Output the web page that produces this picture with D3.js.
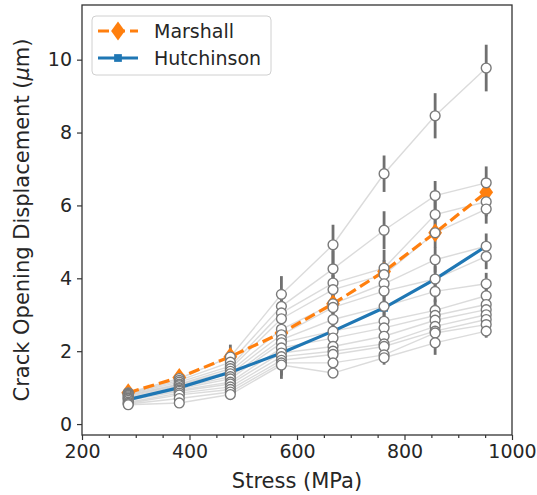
<!DOCTYPE html>
<html>
<head>
<meta charset="utf-8">
<script src="https://cdn.jsdelivr.net/npm/d3@7"></script>
<style>
  html, body { margin: 0; padding: 0; background: #fff; }
  svg { display: block; font-family: "DejaVu Sans", sans-serif; }
</style>
</head>
<body>
<svg id="chart" width="537" height="495"></svg>
<script>
// ---------- data ----------
const stress = [286, 381, 476, 571, 667, 762, 857, 952];

const marshall   = [0.86, 1.28, 1.85, 2.50, 3.30, 4.19, 5.25, 6.36];
const hutchinson = [0.67, 1.00, 1.42, 1.95, 2.55, 3.19, 3.98, 4.88];

// individual specimens (crack opening displacement, µm)
const specimens = [
  [0.86, 1.25, 1.84, 3.56, 4.92, 6.87, 8.46, 9.77],
  [0.84, 1.20, 1.70, 3.23, 4.26, 5.32, 6.27, 6.62],
  [0.82, 1.15, 1.59, 3.05, 3.87, 4.28, 5.75, 6.10],
  [0.80, 1.10, 1.52, 2.89, 3.69, 4.10, 5.25, 5.90],
  [0.78, 1.08, 1.45, 2.60, 3.30, 3.85, 4.51, 4.88],
  [0.75, 1.05, 1.38, 2.45, 3.20, 3.65, 3.98, 4.60],
  [0.72, 1.00, 1.30, 2.32, 2.87, 3.23, 3.64, 3.85],
  [0.70, 0.97, 1.24, 2.23, 2.55, 2.82, 3.12, 3.52],
  [0.69, 0.93, 1.15, 2.09, 2.36, 2.64, 2.98, 3.28],
  [0.65, 0.90, 1.10, 1.95, 2.13, 2.41, 2.85, 3.14],
  [0.60, 0.85, 1.02, 1.85, 2.00, 2.20, 2.68, 3.00],
  [0.57, 0.80, 0.95, 1.75, 1.91, 2.13, 2.55, 2.87],
  [0.55, 0.70, 0.88, 1.68, 1.68, 1.90, 2.50, 2.73],
  [0.53, 0.58, 0.81, 1.62, 1.40, 1.82, 2.23, 2.55]
];

// error bar half-widths for each specimen
const specimenErrors = [
  [0.05, 0.08, 0.34, 0.50, 0.55, 0.50, 0.62, 0.64],
  [0.05, 0.08, 0.25, 0.40, 0.50, 0.52, 0.40, 0.45],
  [0.05, 0.07, 0.20, 0.35, 0.45, 0.50, 0.40, 0.40],
  [0.05, 0.07, 0.20, 0.35, 0.40, 0.40, 0.40, 0.40],
  [0.05, 0.07, 0.20, 0.35, 0.35, 0.35, 0.35, 0.35],
  [0.05, 0.07, 0.18, 0.30, 0.35, 0.35, 0.35, 0.35],
  [0.05, 0.07, 0.18, 0.30, 0.30, 0.30, 0.30, 0.30],
  [0.05, 0.07, 0.15, 0.30, 0.30, 0.30, 0.30, 0.30],
  [0.05, 0.06, 0.15, 0.30, 0.25, 0.25, 0.30, 0.25],
  [0.05, 0.06, 0.15, 0.30, 0.25, 0.25, 0.30, 0.25],
  [0.05, 0.06, 0.12, 0.30, 0.20, 0.20, 0.30, 0.20],
  [0.05, 0.06, 0.12, 0.30, 0.15, 0.20, 0.30, 0.20],
  [0.05, 0.05, 0.12, 0.35, 0.12, 0.20, 0.30, 0.18],
  [0.05, 0.05, 0.11, 0.38, 0.10, 0.19, 0.33, 0.18]
];

const xTicks = [200, 400, 600, 800, 1000];
const xMinorTicks = [250, 300, 350, 450, 500, 550, 650, 700, 750, 850, 900, 950];
const yTicks = [0, 2, 4, 6, 8, 10];
const xLabel = "Stress (MPa)";
const seriesNames = ["Marshall", "Hutchinson"];

// ---------- layout ----------
const svg = d3.select("#chart");
const L = 82, R = 512, T = 5, B = 435;
const x = d3.scaleLinear().domain([200, 1000]).range([L, R]);
const y = d3.scaleLinear().domain([-0.3, 11.5]).range([B, T]);

const orange = "#ff7f0e", blue = "#1f77b4";
const textColor = "#262626";

// specimen lines
const line = d3.line().x((d, i) => x(stress[i])).y(d => y(d));
svg.append("g").selectAll("path").data(specimens).join("path")
  .attr("d", line)
  .attr("fill", "none")
  .attr("stroke", "#cfcfcf")
  .attr("stroke-opacity", 0.75)
  .attr("stroke-width", 1.4);

// error bars
const errG = svg.append("g");
specimens.forEach((row, s) => {
  row.forEach((v, i) => {
    const e = specimenErrors[s][i];
    errG.append("line")
      .attr("x1", x(stress[i])).attr("x2", x(stress[i]))
      .attr("y1", y(v - e)).attr("y2", y(v + e))
      .attr("stroke", "#707070")
      .attr("stroke-width", 2.8);
  });
});

// model lines
const mline = d3.line().x((d, i) => x(stress[i])).y(d => y(d));
svg.append("path").datum(hutchinson).attr("d", mline)
  .attr("fill", "none").attr("stroke", blue).attr("stroke-width", 3.2);
svg.append("path").datum(marshall).attr("d", mline)
  .attr("fill", "none").attr("stroke", orange).attr("stroke-width", 3.2)
  .attr("stroke-dasharray", "11,5");

const diamond = d3.symbol().type(d3.symbolDiamond).size(105);
const square = d3.symbol().type(d3.symbolSquare).size(60);
svg.append("g").selectAll("path").data(hutchinson).join("path")
  .attr("d", square)
  .attr("transform", (d, i) => `translate(${x(stress[i])},${y(d)})`)
  .attr("fill", blue);
svg.append("g").selectAll("path").data(marshall).join("path")
  .attr("d", diamond)
  .attr("transform", (d, i) => `translate(${x(stress[i])},${y(d)}) scale(1.25,1)`)
  .attr("fill", orange);

// specimen circles
const circG = svg.append("g");
specimens.forEach(row => {
  circG.selectAll(null).data(row).enter().append("circle")
    .attr("cx", (d, i) => x(stress[i]))
    .attr("cy", d => y(d))
    .attr("r", 4.9)
    .attr("fill", "#fff")
    .attr("stroke", "#7a7a7a")
    .attr("stroke-width", 1.4);
});

// ---------- axes ----------
const xAxis = svg.append("g").attr("transform", `translate(0,${B})`)
  .call(d3.axisBottom(x).tickValues(xTicks).tickSize(5).tickPadding(5).tickFormat(d3.format("d")));
const xMinor = svg.append("g").attr("transform", `translate(0,${B})`)
  .call(d3.axisBottom(x).tickValues(xMinorTicks).tickSize(3).tickFormat(""));
const yAxis = svg.append("g").attr("transform", `translate(${L},0)`)
  .call(d3.axisLeft(y).tickValues(yTicks).tickSize(5).tickPadding(5).tickFormat(d3.format("d")));

[xAxis, xMinor, yAxis].forEach(g => {
  g.select(".domain").remove();
  g.selectAll(".tick line").attr("stroke", "#333").attr("stroke-width", 1.2);
  g.selectAll(".tick text").attr("fill", textColor)
    .style("font-size", "19px").style("font-family", "DejaVu Sans, sans-serif");
});

// frame
svg.append("rect").attr("x", L).attr("y", T).attr("width", R - L).attr("height", B - T)
  .attr("fill", "none").attr("stroke", "#333").attr("stroke-width", 1.3);

// axis labels
svg.append("text").attr("x", (L + R) / 2).attr("y", 488)
  .attr("text-anchor", "middle").attr("fill", textColor)
  .style("font-size", "21px").text(xLabel);

const yl = svg.append("text")
  .attr("transform", `translate(29,${(T + B) / 2}) rotate(-90)`)
  .attr("text-anchor", "middle").attr("fill", textColor)
  .style("font-size", "21px");
yl.append("tspan").text("Crack Opening Displacement (");
yl.append("tspan").attr("font-style", "italic").text("μ");
yl.append("tspan").text("m)");

// ---------- legend ----------
const lg = svg.append("g");
lg.append("rect").attr("x", 92).attr("y", 16).attr("width", 179).attr("height", 59)
  .attr("rx", 4).attr("fill", "#fff").attr("fill-opacity", 0.85)
  .attr("stroke", "#d0d0d0").attr("stroke-width", 1);
const legendItems = [
  { name: seriesNames[0], color: orange, dash: "11,5", sym: diamond, sx: 1.25, yy: 31 },
  { name: seriesNames[1], color: blue, dash: null, sym: square, sx: 1, yy: 58 }
];
legendItems.forEach(it => {
  lg.append("line").attr("x1", 98).attr("x2", 138).attr("y1", it.yy).attr("y2", it.yy)
    .attr("stroke", it.color).attr("stroke-width", 3.2)
    .attr("stroke-dasharray", it.dash);
  lg.append("path").attr("d", it.sym)
    .attr("transform", `translate(118,${it.yy}) scale(${it.sx},1)`)
    .attr("fill", it.color);
  lg.append("text").attr("x", 154).attr("y", it.yy).attr("dy", "0.35em")
    .attr("fill", textColor).style("font-size", "19px").text(it.name);
});
</script>
</body>
</html>
